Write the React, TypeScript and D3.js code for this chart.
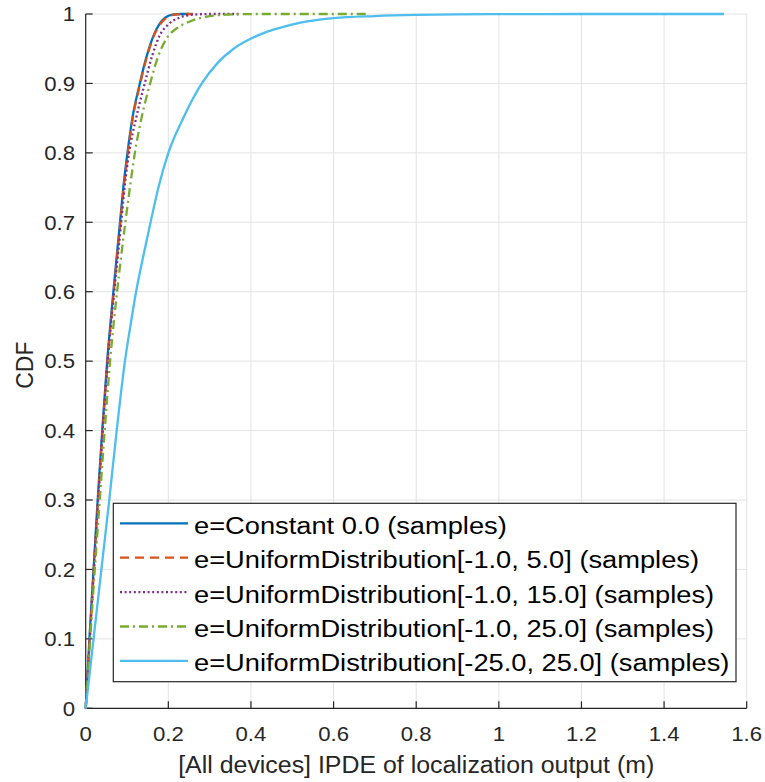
import React from "react";
import * as d3 from "d3";

const xTicks = [0, 0.2, 0.4, 0.6, 0.8, 1, 1.2, 1.4, 1.6];
const yTicks = [0, 0.1, 0.2, 0.3, 0.4, 0.5, 0.6, 0.7, 0.8, 0.9, 1];

const seriesNames = [
  "e=Constant 0.0 (samples)",
  "e=UniformDistribution[-1.0, 5.0] (samples)",
  "e=UniformDistribution[-1.0, 15.0] (samples)",
  "e=UniformDistribution[-1.0, 25.0] (samples)",
  "e=UniformDistribution[-25.0, 25.0] (samples)",
];

const constX = [0, 0.009, 0.019, 0.029, 0.04, 0.052, 0.067, 0.083, 0.091, 0.101, 0.113, 0.131, 0.148, 0.165, 0.178, 0.193, 0.21, 0.23, 0.25];
const constY = [0, 0.1, 0.2, 0.3, 0.4, 0.5, 0.6, 0.7, 0.75, 0.8, 0.85, 0.9, 0.94, 0.97, 0.985, 0.995, 0.999, 1, 1];

const u5X = [0, 0.0095, 0.0195, 0.03, 0.041, 0.053, 0.068, 0.084, 0.092, 0.102, 0.114, 0.132, 0.149, 0.166, 0.18, 0.196, 0.214, 0.235, 0.26];
const u5Y = [0, 0.1, 0.2, 0.3, 0.4, 0.5, 0.6, 0.7, 0.75, 0.8, 0.85, 0.9, 0.94, 0.97, 0.985, 0.995, 0.999, 1, 1];

const u15X = [0, 0.01, 0.02, 0.03, 0.041, 0.053, 0.069, 0.086, 0.094, 0.105, 0.122, 0.143, 0.161, 0.18, 0.2, 0.228, 0.26, 0.3, 0.37];
const u15Y = [0, 0.1, 0.2, 0.3, 0.4, 0.5, 0.6, 0.7, 0.75, 0.8, 0.85, 0.9, 0.94, 0.97, 0.985, 0.995, 0.999, 1, 1];

const u25X = [0, 0.011, 0.022, 0.034, 0.046, 0.059, 0.076, 0.096, 0.107, 0.119, 0.135, 0.156, 0.176, 0.196, 0.222, 0.255, 0.29, 0.34, 0.42, 0.68];
const u25Y = [0, 0.1, 0.2, 0.3, 0.4, 0.5, 0.6, 0.7, 0.75, 0.8, 0.85, 0.9, 0.94, 0.965, 0.98, 0.99, 0.996, 0.999, 1, 1];

const u2525X = [0, 0.019, 0.038, 0.057, 0.075, 0.095, 0.108, 0.122, 0.139, 0.157, 0.176, 0.2, 0.236, 0.281, 0.32, 0.358, 0.42, 0.47, 0.52, 0.6, 0.7, 0.8, 0.9, 1.0, 1.2, 1.545];
const u2525Y = [0, 0.1, 0.2, 0.3, 0.4, 0.5, 0.55, 0.6, 0.65, 0.7, 0.75, 0.8, 0.85, 0.9, 0.93, 0.95, 0.97, 0.98, 0.9875, 0.994, 0.997, 0.9986, 0.9994, 0.9998, 1, 1];

const seriesX = [constX, u5X, u15X, u25X, u2525X];
const seriesY = [constY, u5Y, u15Y, u25Y, u2525Y];
const colors = ["#0072BD", "#D95319", "#7E2F8E", "#77AC30", "#4DBEEE"];
const dashes = ["none", "9,6", "2,2.6", "9,4,2,4", "none"];

const W = 765;
const H = 782;
const left = 85.7;
const right = 746.7;
const top = 14;
const bottom = 708.3;
const FONT = "'Liberation Sans', Arial, Helvetica, sans-serif";
const AX = "#262626";

export default function App() {
  const x = d3.scaleLinear().domain([0, 1.6]).range([left, right]);
  const y = d3.scaleLinear().domain([0, 1]).range([bottom, top]);
  const line = d3
    .line<[number, number]>()
    .x((d) => x(d[0]))
    .y((d) => y(d[1]))
    .curve(d3.curveMonotoneX);

  const legX = 113.3;
  const legY = 503.3;
  const legW = 622.7;
  const legH = 178.4;
  const rowY0 = 523.3;
  const rowDy = 34.4;

  return (
    <svg
      width={W}
      height={H}
      style={{ position: "absolute", left: 0, top: 0, background: "#fff" }}
      fontFamily={FONT}
    >
      <rect x={0} y={0} width={W} height={H} fill="#fff" />
      {xTicks.map((t) => (
        <line key={"gx" + t} x1={x(t)} x2={x(t)} y1={top} y2={bottom} stroke="#e3e3e3" strokeWidth={1} />
      ))}
      {yTicks.map((t) => (
        <line key={"gy" + t} x1={left} x2={right} y1={y(t)} y2={y(t)} stroke="#e3e3e3" strokeWidth={1} />
      ))}
      <line x1={left} x2={left} y1={top} y2={bottom} stroke={AX} strokeWidth={1.2} />
      <line x1={left} x2={right} y1={bottom} y2={bottom} stroke={AX} strokeWidth={1.2} />
      {xTicks.map((t) => (
        <g key={"tx" + t}>
          <line x1={x(t)} x2={x(t)} y1={bottom} y2={bottom - 7} stroke={AX} strokeWidth={1.2} />
          <text
            transform={`translate(${x(t)},${740.7}) scale(1.08,1)`}
            textAnchor="middle"
            fontSize={20.5}
            fill={AX}
          >
            {String(t)}
          </text>
        </g>
      ))}
      {yTicks.map((t) => (
        <g key={"ty" + t}>
          <line x1={left} x2={left + 7} y1={y(t)} y2={y(t)} stroke={AX} strokeWidth={1.2} />
          <text
            transform={`translate(${75},${y(t) + 7.3}) scale(1.08,1)`}
            textAnchor="end"
            fontSize={20.5}
            fill={AX}
          >
            {String(t)}
          </text>
        </g>
      ))}
      <text
        transform={`translate(${(left + right) / 2},773) scale(1.06,1)`}
        textAnchor="middle"
        fontSize={23.5}
        fill={AX}
      >
        [All devices] IPDE of localization output (m)
      </text>
      <text
        transform={`translate(33,${(top + bottom) / 2 + 4}) rotate(-90)`}
        textAnchor="middle"
        fontSize={23}
        fill={AX}
      >
        CDF
      </text>
      {seriesX.map((xs, i) => {
        const pts = xs.map((v, j) => [v, seriesY[i][j]] as [number, number]);
        return (
          <path
            key={"s" + i}
            d={line(pts) || ""}
            fill="none"
            stroke={colors[i]}
            strokeWidth={2.3}
            strokeDasharray={dashes[i]}
            strokeLinejoin="round"
          />
        );
      })}
      <rect x={legX} y={legY} width={legW} height={legH} fill="#fff" stroke={AX} strokeWidth={1.2} />
      {seriesNames.map((name, i) => {
        const ry = rowY0 + i * rowDy;
        return (
          <g key={"l" + i}>
            <line x1={120} x2={188} y1={ry} y2={ry} stroke={colors[i]} strokeWidth={2.3} strokeDasharray={dashes[i]} />
            <text
              transform={`translate(194,${ry + 10.5}) scale(1.16,1)`}
              fontSize={23.5}
              fill="#000"
            >
              {name}
            </text>
          </g>
        );
      })}
    </svg>
  );
}
